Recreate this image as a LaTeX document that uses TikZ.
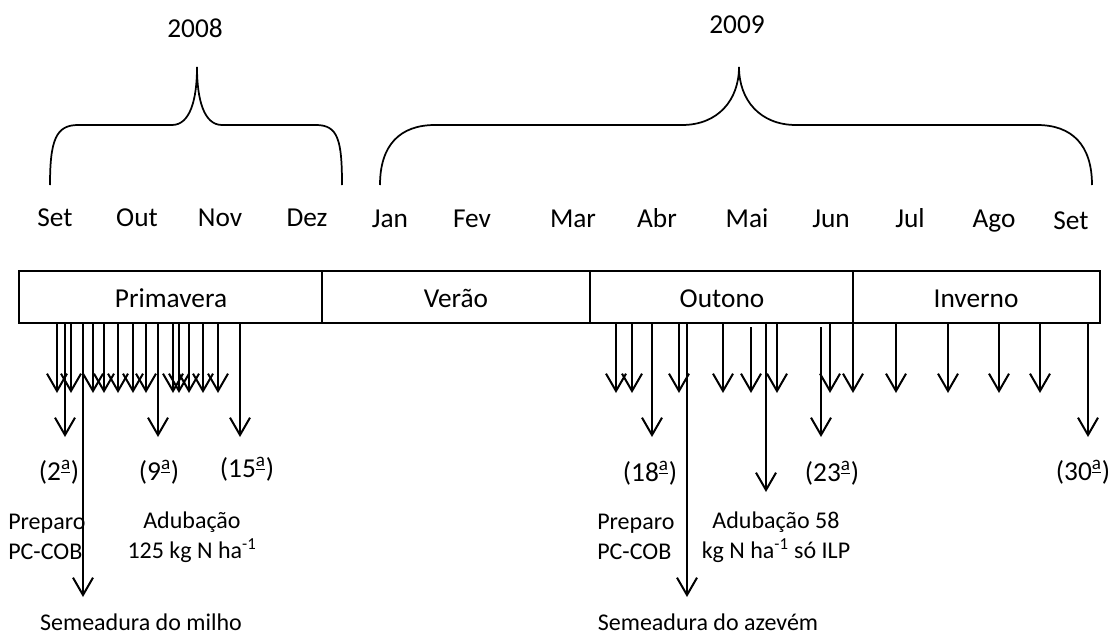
\documentclass[tikz,border=0pt]{standalone}
\usepackage{fontspec}
\setmainfont{Carlito}
\usetikzlibrary{arrows.meta}
\newcommand{\ordA}{\textsuperscript{\underline{a}}}
\begin{document}
\begin{tikzpicture}[x=0.75pt,y=-0.75pt,
  big/.style={font=\fontsize{20.5}{24}\selectfont, inner sep=0pt, anchor=base},
  sm/.style={font=\fontsize{18}{22.5}\selectfont, inner sep=0pt, align=center},
  arr/.style={line width=1.5pt, -{Straight Barb[length=13pt,width=15pt,line width=1.5pt]}},
  bracestyle/.style={line width=1.3pt},
  boxline/.style={line width=1.5pt}]
\useasboundingbox (0,0) rectangle (1120,635);

% years and braces
\node[big] (y2008) at (195,38) {2008};
\node[big] (y2009) at (737,34) {2009};
\draw[bracestyle] (50,185) .. controls (50,140) and (56,125) .. (78,125) -- (172,125)
  .. controls (190,125) and (197,100) .. (197,67)
  .. controls (197,100) and (204,125) .. (222,125) -- (316,125)
  .. controls (338,125) and (342,140) .. (342,185);
\draw[bracestyle] (380,185) .. controls (380,145) and (400,125) .. (435,125) -- (682,125)
  .. controls (718,125) and (739,100) .. (739,67)
  .. controls (739,100) and (760,125) .. (796,125) -- (1037,125)
  .. controls (1072,125) and (1092,145) .. (1092,185);

% months
\node[big] (m1) at (55,226) {Set};
\node[big] (m2) at (137,226) {Out};
\node[big] (m3) at (220,226) {Nov};
\node[big] (m4) at (307,226) {Dez};
\node[big] (m5) at (390,227) {Jan};
\node[big] (m6) at (472,227) {Fev};
\node[big] (m7) at (573,227) {Mar};
\node[big] (m8) at (657,227) {Abr};
\node[big] (m9) at (747,227) {Mai};
\node[big] (m10) at (831,227) {Jun};
\node[big] (m11) at (910,227) {Jul};
\node[big] (m12) at (994,227) {Ago};
\node[big] (m13) at (1071,229) {Set};

% seasons bar
\draw[boxline] (19,271) rectangle (1100,323);
\draw[boxline] (322,271) -- (322,323);
\draw[boxline] (590,271) -- (590,323);
\draw[boxline] (853,271) -- (853,323);
\node[big] (s1) at (171,307) {Primavera};
\node[big] (s2) at (456,307) {Verão};
\node[big] (s3) at (722,307) {Outono};
\node[big] (s4) at (976,307) {Inverno};

% short arrows
\foreach \x in {57,71,93,104,118,133,146,173,179,189,203,218,616,632,679,723,777,830,853,896,948,999,1040}
  \draw[arr] (\x,323) -- (\x,393);
\draw[arr] (751,327) -- (751,393);
% long arrows
\foreach \x in {65,158,240,652,1088}
  \draw[arr] (\x,323) -- (\x,437);
\draw[arr] (821,327) -- (821,437);
% event arrows
\draw[arr] (766,323) -- (766,492);
\draw[arr] (83,323) -- (83,597);
\draw[arr] (687,323) -- (687,597);

% ordinal labels
\node[big] (o2) at (59,480) {(2\ordA)};
\node[big] (o9) at (159,480) {(9\ordA)};
\node[big] (o15) at (247,477) {(15\ordA)};
\node[big] (o18) at (650,481) {(18\ordA)};
\node[big] (o23) at (832,481) {(23\ordA)};
\node[big] (o30) at (1083,480) {(30\ordA)};

% event labels
\node[sm, anchor=west, align=left] (p1) at (8,537) {Preparo\\PC-COB};
\node[sm] (a1) at (192,537) {Adubação\\125 kg N ha\textsuperscript{-1}};
\node[sm, anchor=base] (sem1) at (141,630) {Semeadura do milho};
\node[sm, anchor=west, align=left] (p2) at (597,537) {Preparo\\PC-COB};
\node[sm] (a2) at (776,537) {Adubação 58\\kg N ha\textsuperscript{-1} só ILP};
\node[sm, anchor=base] (sem2) at (708,630) {Semeadura do azevém};
\end{tikzpicture}
\end{document}
